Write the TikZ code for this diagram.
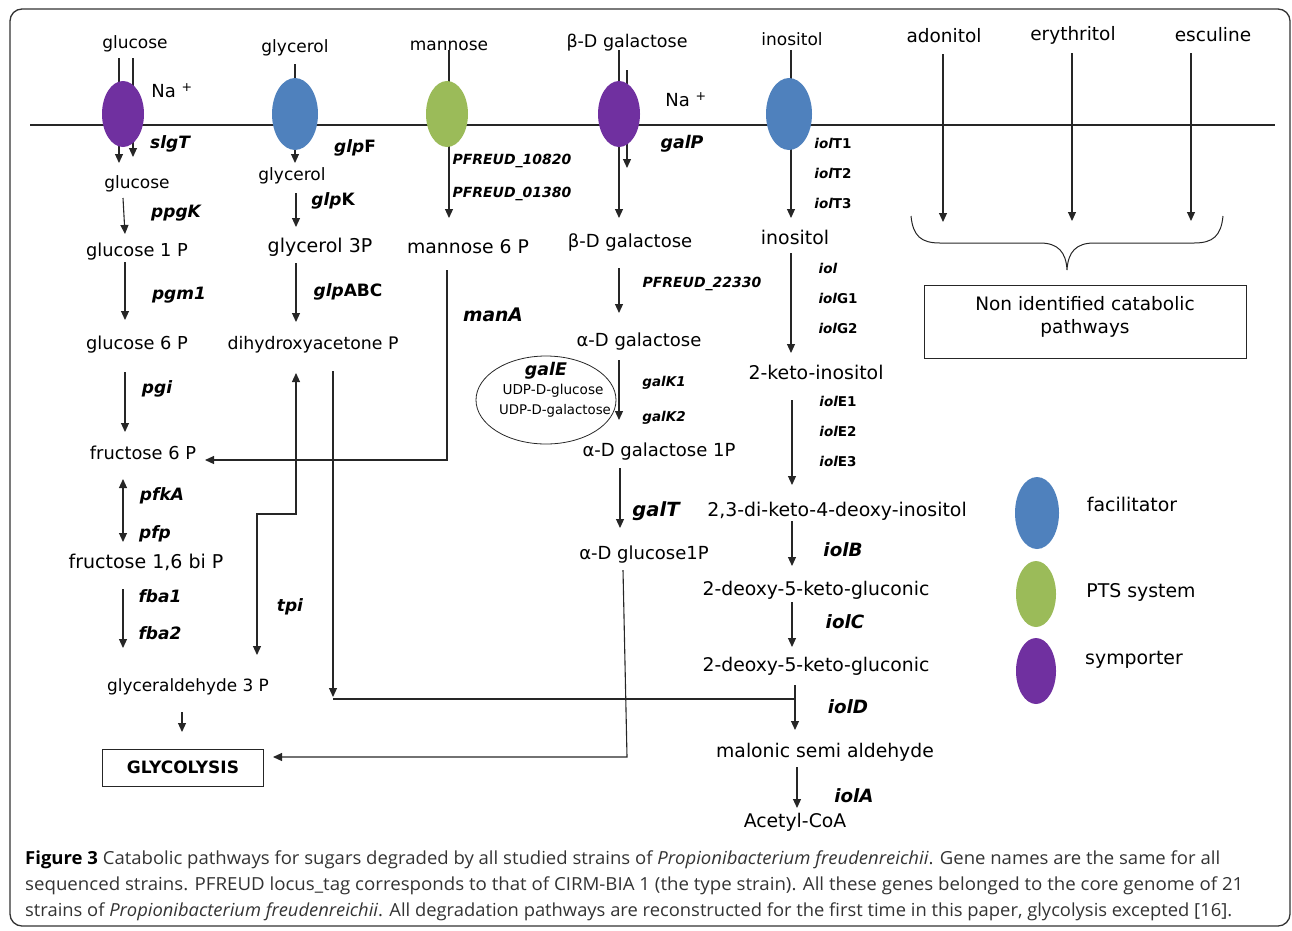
\documentclass[tikz,border=0pt]{standalone}
\usepackage{fontspec}
\usepackage{graphicx}
\setmainfont{DejaVu Sans}
\newfontfamily\capfont{Open Sans}
\usetikzlibrary{arrows.meta,shapes.geometric}
\definecolor{symc}{HTML}{7030A0}
\definecolor{facc}{HTML}{4F81BD}
\definecolor{ptsc}{HTML}{9BBB59}
\definecolor{capgray}{HTML}{333333}
\newcommand\fsz[1]{\fontsize{#1}{#1}\selectfont}
\newcommand\gbi[1]{{\bfseries\itshape #1}}
\begin{document}
\begin{tikzpicture}[x=1pt,y=-1pt,>={Triangle[length=9pt,width=8pt]},
  ln/.style={draw=black!85,line width=1.1pt},
  arr/.style={ln,->},
  lab/.style={inner sep=0pt,text=black,yshift=-1.5pt},
  gene/.style={inner sep=0pt,font=\fsz{14}\bfseries\itshape,yshift=-1.5pt},
  trans/.style={ellipse,draw=none,inner sep=0pt,minimum width=42pt,minimum height=66pt},
  capline/.style={inner sep=0pt,anchor=base west,text=capgray,font=\capfont\fsz{18}}]
\useasboundingbox (0,0) rectangle (1292,930);
\draw[black!80,line width=1.3pt,rounded corners=12pt] (10,9) rectangle (1290,926);

% ---------- coordinates ----------
\coordinate (memL) at (30,125); \coordinate (memR) at (1275,125);
\coordinate (gA1) at (119,58);  \coordinate (gA2) at (119,163);
\coordinate (gB1) at (133,58);  \coordinate (gB2) at (133,157);
\coordinate (yA1) at (295,64);  \coordinate (yA2) at (295,163);
\coordinate (mA1) at (449,50);  \coordinate (mA2) at (449,218);
\coordinate (bA1) at (619,50);  \coordinate (bA2) at (619,218);
\coordinate (bB1) at (627,70);  \coordinate (bB2) at (627,168);
\coordinate (iA1) at (791,50);  \coordinate (iA2) at (791,218);
\coordinate (ad1) at (943,54);  \coordinate (ad2) at (943,222);
\coordinate (er1) at (1072,53); \coordinate (er2) at (1072,221);
\coordinate (es1) at (1191,53); \coordinate (es2) at (1191,221);

\coordinate (p1a) at (123,198); \coordinate (p1b) at (125,234);
\coordinate (p2a) at (125,262); \coordinate (p2b) at (125,320);
\coordinate (p3a) at (125,372); \coordinate (p3b) at (125,432);
\coordinate (p4a) at (123,479); \coordinate (p4b) at (123,542);
\coordinate (p5a) at (123,589); \coordinate (p5b) at (123,648);
\coordinate (p6a) at (182,712); \coordinate (p6b) at (182,732);

\coordinate (y1a) at (296,193); \coordinate (y1b) at (296,227);
\coordinate (y2a) at (296,263); \coordinate (y2b) at (296,322);
\coordinate (tpA) at (257,655); \coordinate (tpB) at (257,514);
\coordinate (tpC) at (296,514); \coordinate (tpD) at (296,373);
\coordinate (dhA) at (333,371); \coordinate (dhB) at (333,697);
\coordinate (hzA) at (333,699); \coordinate (hzB) at (795,699);

\coordinate (maA) at (447,270); \coordinate (maB) at (447,460); \coordinate (maC) at (205,460);

\coordinate (ga1a) at (619,268); \coordinate (ga1b) at (619,313);
\coordinate (ga2a) at (619,360); \coordinate (ga2b) at (619,420);
\coordinate (ga3a) at (620,468); \coordinate (ga3b) at (620,528);
\coordinate (gcA) at (623,570); \coordinate (gcB) at (627,757); \coordinate (gcC) at (273,757);

\coordinate (i1a) at (791,253); \coordinate (i1b) at (791,353);
\coordinate (i2a) at (792,400); \coordinate (i2b) at (792,485);
\coordinate (i3a) at (792,521); \coordinate (i3b) at (792,566);
\coordinate (i4a) at (792,602); \coordinate (i4b) at (792,647);
\coordinate (i5a) at (795,685); \coordinate (i5b) at (795,730);
\coordinate (i6a) at (797,767); \coordinate (i6b) at (797,808);

% ---------- membrane and entry arrows ----------
\draw[ln] (memL) -- (memR);
\draw[arr] (gA1) -- (gA2);
\draw[arr] (gB1) -- (gB2);
\draw[arr] (yA1) -- (yA2);
\draw[arr] (mA1) -- (mA2);
\draw[arr] (bA1) -- (bA2);
\draw[arr] (bB1) -- (bB2);
\draw[arr] (iA1) -- (iA2);
\draw[arr] (ad1) -- (ad2);
\draw[arr] (er1) -- (er2);
\draw[arr] (es1) -- (es2);

% ---------- transporters ----------
\node[trans,fill=symc] (tglc) at (123,114) {};
\node[trans,fill=facc,minimum width=46pt,minimum height=72pt] (tgly) at (295,114) {};
\node[trans,fill=ptsc] (tman) at (447,114) {};
\node[trans,fill=symc] (tgal) at (619,114) {};
\node[trans,fill=facc,minimum width=46pt,minimum height=72pt] (tino) at (789,114) {};

% ---------- top labels ----------
\node[lab,font=\fsz{17}] (glcT) at (135,42) {glucose};
\node[lab,font=\fsz{17}] (glyT) at (295,46) {glycerol};
\node[lab,font=\fsz{17}] (manT) at (449,44) {mannose};
\node[lab,font=\fsz{17.5}] (galT0) at (627,41) {β-D galactose};
\node[lab,font=\fsz{17}] (inoT) at (792,38) {inositol};
\node[lab,font=\fsz{18.5}] (adoT) at (944,34) {adonitol};
\node[lab,font=\fsz{18.5}] (eryT) at (1073,34) {erythritol};
\node[lab,font=\fsz{18.5}] (escT) at (1213,33) {esculine};
\node[lab,font=\fsz{18}] (na1) at (172,89) {Na \textsuperscript{+}};
\node[lab,font=\fsz{18}] (na2) at (686,98) {Na \textsuperscript{+}};

% ---------- brace and box ----------
\draw[black!85,line width=1pt] (911,216) .. controls (913,236) and (921,243) .. (940,243)
  -- (1040,243) .. controls (1058,243) and (1066,252) .. (1067,270)
  .. controls (1068,252) and (1076,243) .. (1094,243)
  -- (1194,243) .. controls (1213,243) and (1221,236) .. (1223,216);
\node[draw=black!85,line width=1pt,minimum width=322pt,minimum height=73pt,inner sep=0pt] (nic) at (1085,321.5) {};
\node[lab,font=\fsz{18.5}] (nic1) at (1085,302) {Non identified catabolic};
\node[lab,font=\fsz{18.5}] (nic2) at (1085,327) {pathways};

% ---------- glucose column ----------
\node[gene,font=\fsz{17}\bfseries\itshape] (slgT) at (170,142) {slgT};
\node[lab,font=\fsz{17}] (glc) at (137,182) {glucose};
\node[gene,font=\fsz{17}\bfseries\itshape] (ppgK) at (176,212) {ppgK};
\node[lab,font=\fsz{17.8}] (g1p) at (137,250) {glucose 1 P};
\node[gene,font=\fsz{17}\bfseries\itshape] (pgm) at (179,294) {pgm1};
\node[lab,font=\fsz{17.8}] (g6p) at (137,343) {glucose 6 P};
\node[gene,font=\fsz{17}\bfseries\itshape] (pgi) at (157,387) {pgi};
\node[lab,font=\fsz{17.8}] (f6p) at (143,451) {fructose 6 P};
\node[gene,font=\fsz{17}\bfseries\itshape] (pfkA) at (162,494) {pfkA};
\node[gene,font=\fsz{17}\bfseries\itshape] (pfp) at (155,532) {pfp};
\node[lab,font=\fsz{19}] (fbp) at (146,561) {fructose 1,6 bi P};
\node[gene,font=\fsz{17}\bfseries\itshape] (fba1) at (160,595) {fba1};
\node[gene,font=\fsz{17}\bfseries\itshape] (fba2) at (160,632) {fba2};
\node[lab,font=\fsz{16.9}] (ga3p) at (188,685) {glyceraldehyde 3 P};
\node[draw=black!85,line width=1pt,minimum width=161pt,minimum height=37pt,inner sep=0pt,font=\fsz{17}\bfseries] (glyc) at (183,767.5) {GLYCOLYSIS};
\draw[arr] (p1a) -- (p1b);
\draw[arr] (p2a) -- (p2b);
\draw[arr] (p3a) -- (p3b);
\draw[ln,<->] (p4a) -- (p4b);
\draw[arr] (p5a) -- (p5b);
\draw[arr] (p6a) -- (p6b);

% ---------- glycerol column ----------
\node[lab,font=\fsz{17}\bfseries] (glpF) at (355,146) {\gbi{glp}F};
\node[lab,font=\fsz{17}] (gly) at (292,174) {glycerol};
\node[lab,font=\fsz{17}\bfseries] (glpK) at (333,199) {\gbi{glp}K};
\node[lab,font=\fsz{19}] (gl3p) at (320,246) {glycerol 3P};
\node[lab,font=\fsz{17}\bfseries] (glpABC) at (348,290) {\gbi{glp}ABC};
\node[lab,font=\fsz{17.3}] (dhap) at (313,343) {dihydroxyacetone P};
\node[gene,font=\fsz{17}\bfseries\itshape] (tpi) at (290,605) {tpi};
\draw[arr] (y1a) -- (y1b);
\draw[arr] (y2a) -- (y2b);
\draw[ln,<->] (tpA) -- (tpB) -- (tpC) -- (tpD);
\draw[arr] (dhA) -- (dhB);
\draw[ln] (hzA) -- (hzB);

% ---------- mannose column ----------
\node[gene] (pf1) at (512,159) {PFREUD\_10820};
\node[gene] (pf2) at (512,192) {PFREUD\_01380};
\node[lab,font=\fsz{18.8}] (m6p) at (468,245) {mannose 6 P};
\node[gene,font=\fsz{18.7}\bfseries\itshape] (manA) at (493,313) {manA};
\draw[arr] (maA) -- (maB) -- (maC);

% ---------- galactose column ----------
\node[gene,font=\fsz{17.4}\bfseries\itshape] (galP) at (682,142) {galP};
\node[lab,font=\fsz{18}] (bgal) at (630,241) {β-D galactose};
\node[gene] (pf3) at (702,282) {PFREUD\_22330};
\node[lab,font=\fsz{18}] (agal) at (639,340) {α-D galactose};
\node[gene,font=\fsz{13.5}\bfseries\itshape] (galK1) at (664,381) {galK1};
\node[gene,font=\fsz{13.5}\bfseries\itshape] (galK2) at (664,416) {galK2};
\draw[arr] (ga1a) -- (ga1b);
\draw[arr] (ga2a) -- (ga2b);
\node[ellipse,draw=black!85,line width=0.8pt,minimum width=140pt,minimum height=88pt,inner sep=0pt] (galE) at (546,400) {};
\node[gene,font=\fsz{17.4}\bfseries\itshape] (galEt) at (546,369) {galE};
\node[lab,font=\fsz{13.6}] (udpg) at (553,389) {UDP-D-glucose};
\node[lab,font=\fsz{13.3}] (udpgal) at (555,409) {UDP-D-galactose};
\node[lab,font=\fsz{18}] (agal1p) at (659,450) {α-D galactose 1P};
\node[gene,font=\fsz{19.5}\bfseries\itshape] (galT) at (656,510) {galT};
\node[lab,font=\fsz{18}] (aglc1p) at (644,553) {α-D glucose1P};
\draw[arr] (ga3a) -- (ga3b);
\draw[arr] (gcA) -- (gcB) -- (gcC);

% ---------- inositol column ----------
\node[lab,font=\fsz{13.5}\bfseries] (iolT1) at (833,142) {\gbi{iol}T1};
\node[lab,font=\fsz{13.5}\bfseries] (iolT2) at (833,172) {\gbi{iol}T2};
\node[lab,font=\fsz{13.5}\bfseries] (iolT3) at (833,202) {\gbi{iol}T3};
\node[lab,font=\fsz{18.9}] (ino) at (795,236) {inositol};
\node[gene,font=\fsz{13.5}\bfseries\itshape] (iol) at (828,267) {iol};
\node[lab,font=\fsz{13.5}\bfseries] (iolG1) at (838,297) {\gbi{iol}G1};
\node[lab,font=\fsz{13.5}\bfseries] (iolG2) at (838,327) {\gbi{iol}G2};
\node[lab,font=\fsz{18.9}] (kino) at (816,371) {2-keto-inositol};
\node[lab,font=\fsz{13.5}\bfseries] (iolE1) at (838,400) {\gbi{iol}E1};
\node[lab,font=\fsz{13.5}\bfseries] (iolE2) at (838,430) {\gbi{iol}E2};
\node[lab,font=\fsz{13.5}\bfseries] (iolE3) at (838,460) {\gbi{iol}E3};
\node[lab,font=\fsz{18.9}] (dkdi) at (837,510) {2,3-di-keto-4-deoxy-inositol};
\node[gene,font=\fsz{18.3}\bfseries\itshape] (iolB) at (843,548) {iolB};
\node[lab,font=\fsz{18.8}] (dkg1) at (816,589) {2-deoxy-5-keto-gluconic};
\node[gene,font=\fsz{18.3}\bfseries\itshape] (iolC) at (845,620) {iolC};
\node[lab,font=\fsz{18.8}] (dkg2) at (816,665) {2-deoxy-5-keto-gluconic};
\node[gene,font=\fsz{18.3}\bfseries\itshape] (iolD) at (848,705) {iolD};
\node[lab,font=\fsz{18.8}] (msa) at (825,751) {malonic semi aldehyde};
\node[gene,font=\fsz{18.3}\bfseries\itshape] (iolA) at (854,794) {iolA};
\node[lab,font=\fsz{18.8}] (acoa) at (795,821) {Acetyl-CoA};
\draw[arr] (i1a) -- (i1b);
\draw[arr] (i2a) -- (i2b);
\draw[arr] (i3a) -- (i3b);
\draw[arr] (i4a) -- (i4b);
\draw[arr] (i5a) -- (i5b);
\draw[arr] (i6a) -- (i6b);

% ---------- legend ----------
\node[trans,fill=facc,minimum width=44pt,minimum height=72pt] (lgF) at (1037,513) {};
\node[trans,fill=ptsc,minimum width=40pt,minimum height=66pt] (lgP) at (1036,594) {};
\node[trans,fill=symc,minimum width=40pt,minimum height=66pt] (lgS) at (1036,671) {};
\node[lab,font=\fsz{18.9}] (lgFt) at (1132,503) {facilitator};
\node[lab,font=\fsz{18.9}] (lgPt) at (1141,591) {PTS system};
\node[lab,font=\fsz{18.9}] (lgSt) at (1134,658) {symporter};

% ---------- caption ----------
\node[capline] (cap1) at (25,864) {\resizebox{1195pt}{\height}{\textcolor{black}{\bfseries Figure 3} Catabolic pathways for sugars degraded by all studied strains of \textit{Propionibacterium freudenreichii}. Gene names are the same for all}};
\node[capline] (cap2) at (25,890) {\resizebox{1218pt}{\height}{sequenced strains. PFREUD locus\_tag corresponds to that of CIRM-BIA 1 (the type strain). All these genes belonged to the core genome of 21}};
\node[capline] (cap3) at (25,916) {\resizebox{1207pt}{\height}{strains of \textit{Propionibacterium freudenreichii}. All degradation pathways are reconstructed for the first time in this paper, glycolysis excepted [16].}};
\end{tikzpicture}
\end{document}
